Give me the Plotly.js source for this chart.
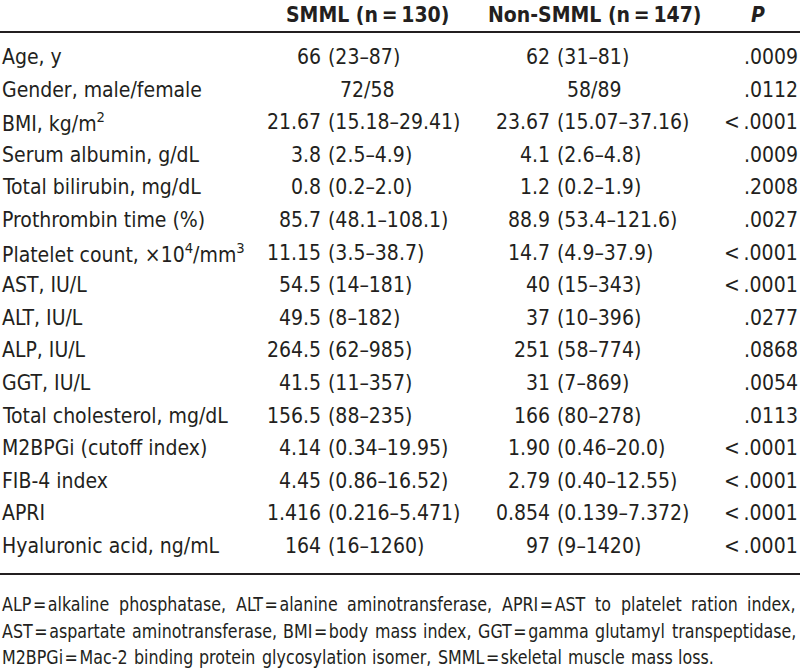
<!DOCTYPE html>
<html>
<head>
<meta charset="utf-8">
<script src="https://cdn.plot.ly/plotly-3.0.1.min.js"></script>
<style>html,body{margin:0;padding:0;background:#fff;overflow:hidden}#chart{width:800px;height:668px;overflow:hidden}</style>
</head>
<body>
<div id="chart"></div>
<script>
// ---- data ----
var headers = ["SMML (n\u2009=\u2009130)", "Non-SMML (n\u2009=\u2009147)", "<i>P</i>"];
var labels = ["Age, y", "Gender, male/female", "BMI, kg/m<sup>2</sup>", "Serum albumin, g/dL",
  "Total bilirubin, mg/dL", "Prothrombin time (%)", "Platelet count, \u00d710<sup>4</sup>/mm<sup>3</sup>",
  "AST, IU/L", "ALT, IU/L", "ALP, IU/L", "GGT, IU/L", "Total cholesterol, mg/dL",
  "M2BPGi (cutoff index)", "FIB-4 index", "APRI", "Hyaluronic acid, ng/mL"];
var smmlMedian = ["66", "72/58", "21.67", "3.8", "0.8", "85.7", "11.15", "54.5", "49.5", "264.5",
  "41.5", "156.5", "4.14", "4.45", "1.416", "164"];
var smmlRange = ["(23\u201387)", "", "(15.18\u201329.41)", "(2.5\u20134.9)", "(0.2\u20132.0)",
  "(48.1\u2013108.1)", "(3.5\u201338.7)", "(14\u2013181)", "(8\u2013182)", "(62\u2013985)",
  "(11\u2013357)", "(88\u2013235)", "(0.34\u201319.95)", "(0.86\u201316.52)", "(0.216\u20135.471)",
  "(16\u20131260)"];
var nonMedian = ["62", "58/89", "23.67", "4.1", "1.2", "88.9", "14.7", "40", "37", "251", "31",
  "166", "1.90", "2.79", "0.854", "97"];
var nonRange = ["(31\u201381)", "", "(15.07\u201337.16)", "(2.6\u20134.8)", "(0.2\u20131.9)",
  "(53.4\u2013121.6)", "(4.9\u201337.9)", "(15\u2013343)", "(10\u2013396)", "(58\u2013774)",
  "(7\u2013869)", "(80\u2013278)", "(0.46\u201320.0)", "(0.40\u201312.55)", "(0.139\u20137.372)",
  "(9\u20131420)"];
var pValues = [".0009", ".0112", "<\u2009.0001", ".0009", ".2008", ".0027", "<\u2009.0001", "<\u2009.0001",
  ".0277", ".0868", ".0054", ".0113", "<\u2009.0001", "<\u2009.0001", "<\u2009.0001", "<\u2009.0001"];
var footnotes = [
  "ALP\u200a=\u200aalkaline phosphatase, ALT\u200a=\u200aalanine aminotransferase, APRI\u200a=\u200aAST to platelet ration index,",
  "AST\u200a=\u200aaspartate aminotransferase, BMI\u200a=\u200abody mass index, GGT\u200a=\u200agamma glutamyl transpeptidase,",
  "M2BPGi\u200a=\u200aMac-2 binding protein glycosylation isomer, SMML\u200a=\u200askeletal muscle mass loss."
];

// ---- layout constants ----
var FONT = '"DejaVu Sans Condensed", "Liberation Sans Narrow", sans-serif';
var COLOR = '#231f20';
var FS = 21, FNS = 19, FN_SCALE = 0.93;
var rowY0 = 57, rowDY = 32.6, headY = 15;
var col = {label: 2, smmlMed: 321, smmlCenter: 367, nonMed: 550, nonCenter: 594, pRight: 798, pCenter: 758};
var gap = 7;

var ann = [];
var squeeze = []; // [annotation index, left x]
function add(x, y, text, anchor, size) {
  ann.push({x: x, y: y, xref: 'x', yref: 'y', text: text, showarrow: false,
    xanchor: anchor, yanchor: 'middle', borderpad: 0, borderwidth: 0,
    font: {family: FONT, size: size || FS, color: COLOR}});
  return ann.length - 1;
}
add(col.smmlCenter, headY, '<b>' + headers[0] + '</b>', 'center');
add(col.nonCenter, headY, '<b>' + headers[1] + '</b>', 'center');
add(col.pCenter, headY, '<b>' + headers[2] + '</b>', 'center');

labels.forEach(function (lab, i) {
  var y = rowY0 + i * rowDY;
  add(col.label, y, lab, 'left');
  if (smmlRange[i]) {
    add(col.smmlMed, y, smmlMedian[i], 'right');
    add(col.smmlMed + gap, y, smmlRange[i], 'left');
  } else {
    add(col.smmlCenter, y, smmlMedian[i], 'center');
  }
  if (nonRange[i]) {
    add(col.nonMed, y, nonMedian[i], 'right');
    add(col.nonMed + gap, y, nonRange[i], 'left');
  } else {
    add(col.nonCenter, y, nonMedian[i], 'center');
  }
  add(col.pRight, y, pValues[i], 'right');
});

// footnotes: slightly condensed, first lines justified to full width
var cv = document.createElement('canvas').getContext('2d');
cv.font = FNS + 'px ' + FONT;
var fnY = [604, 631, 657];
var minSp = cv.measureText(' ').width * FN_SCALE;
footnotes.forEach(function (line, li) {
  var words = line.split(' ');
  var widths = words.map(function (w) { return cv.measureText(w).width * FN_SCALE; });
  var total = widths.reduce(function (s, w) { return s + w; }, 0);
  var last = li === footnotes.length - 1;
  var sp = last ? minSp * 1.2 : (794 - total) / (words.length - 1);
  if (sp < minSp * 0.8) sp = minSp * 0.8;
  var x = 2;
  words.forEach(function (w, j) {
    var k = add(x, fnY[li], w, 'left', FNS);
    squeeze.push([k, x]);
    x += widths[j] + sp;
  });
});

var shapes = [
  {type: 'line', xref: 'x', yref: 'y', x0: 0, x1: 800, y0: 32, y1: 32, line: {color: COLOR, width: 2}},
  {type: 'line', xref: 'x', yref: 'y', x0: 0, x1: 800, y0: 574, y1: 574, line: {color: COLOR, width: 2}}
];

Plotly.newPlot('chart', [{x: [0, 800], y: [0, 668], mode: 'markers', marker: {opacity: 0}, hoverinfo: 'skip', showlegend: false}], {
  width: 800, height: 668, margin: {l: 0, r: 0, t: 0, b: 0},
  paper_bgcolor: '#fff', plot_bgcolor: '#fff',
  xaxis: {range: [0, 800], visible: false, fixedrange: true},
  yaxis: {range: [668, 0], visible: false, fixedrange: true},
  annotations: ann, shapes: shapes, showlegend: false
}, {staticPlot: true}).then(function (gd) {
  var groups = gd.querySelectorAll('g.annotation');
  squeeze.forEach(function (s) {
    var g = groups[s[0]];
    if (g) g.setAttribute('transform', 'translate(' + s[1] + ',0) scale(' + FN_SCALE + ',1) translate(' + (-s[1]) + ',0)');
  });
});
</script>
</body>
</html>
